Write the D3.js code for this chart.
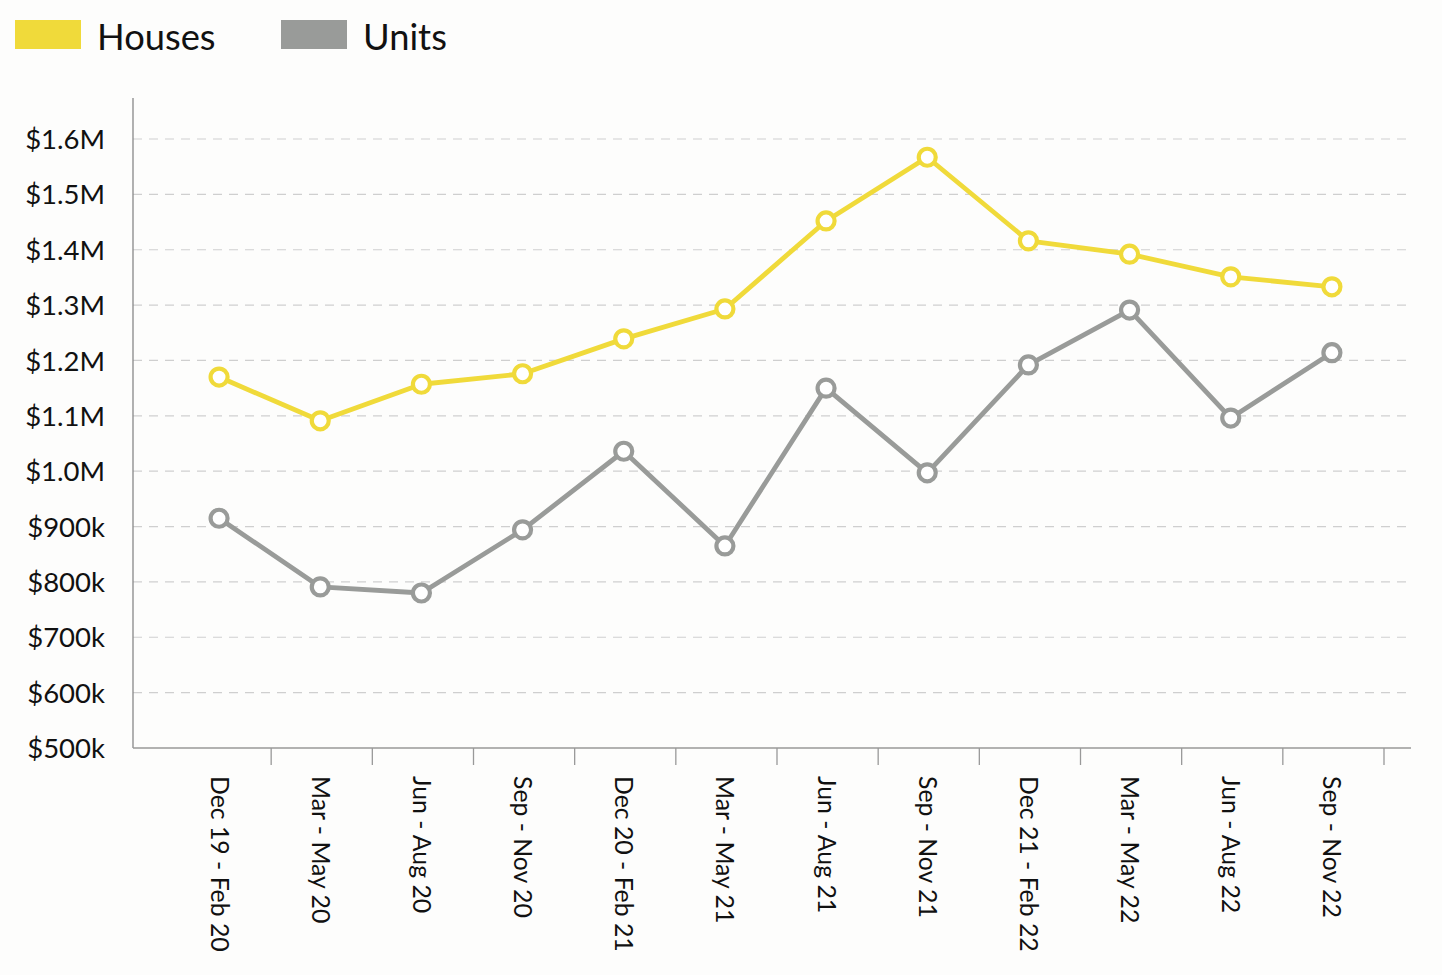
<!DOCTYPE html>
<html><head><meta charset="utf-8">
<script src="https://cdn.jsdelivr.net/npm/d3@7"></script>
<style>body{margin:0;background:#fdfdfc;}svg{display:block;}text{font-family:Lato,"Open Sans",sans-serif;fill:#111;}</style>
</head><body><svg id="c" width="1442" height="975"></svg>
<script>
const categories = ["Dec 19 - Feb 20","Mar - May 20","Jun - Aug 20","Sep - Nov 20","Dec 20 - Feb 21","Mar - May 21","Jun - Aug 21","Sep - Nov 21","Dec 21 - Feb 22","Mar - May 22","Jun - Aug 22","Sep - Nov 22"];
const houses = [1170000,1091000,1157000,1176000,1239000,1293000,1452000,1567000,1416000,1392000,1351000,1333000];
const units = [915000,791000,780000,894000,1036000,865000,1150000,997000,1192000,1291000,1096000,1214000];
const yTicks = [500000,600000,700000,800000,900000,1000000,1100000,1200000,1300000,1400000,1500000,1600000];
const seriesNames = ["Houses","Units"];
const colors = ["#f0da3a","#999b99"];

const svg = d3.select("#c");
const pLeft = 133, pRight = 1411, pTop = 98, pBottom = 748;
const x = d3.scaleBand().domain(categories).range([170, 1384]);
const y = d3.scaleLinear().domain([500000,1600000]).range([pBottom, 139]);
const fmt = v => v >= 1000000 ? "$" + (v/1000000).toFixed(1) + "M" : "$" + (v/1000) + "k";

// grid
svg.append("g").selectAll("line").data(yTicks.slice(1)).join("line")
  .attr("x1", pLeft).attr("x2", pRight).attr("y1", d=>y(d)).attr("y2", d=>y(d))
  .attr("stroke", "#cfcfcf").attr("stroke-width", 1.2).attr("stroke-dasharray", "9,7");

// y axis
const ya = svg.append("g").attr("transform", `translate(${pLeft},0)`)
  .call(d3.axisLeft(y).tickValues(yTicks).tickFormat(fmt).tickSize(0).tickPadding(28));
ya.select(".domain").remove();
ya.selectAll("text").style("font-size","27.5px").attr("fill","#111").attr("dy","0.35em").style("font-family","Lato");
svg.append("line").attr("x1",pLeft).attr("x2",pLeft).attr("y1",pTop).attr("y2",pBottom).attr("stroke","#888").attr("stroke-width",1.3);

// x axis
svg.append("line").attr("x1",pLeft).attr("x2",pRight).attr("y1",pBottom).attr("y2",pBottom).attr("stroke","#999").attr("stroke-width",1.3);
svg.append("g").selectAll("line").data(categories).join("line")
  .attr("x1", d=>x(d)+x.bandwidth()).attr("x2", d=>x(d)+x.bandwidth())
  .attr("y1", pBottom).attr("y2", pBottom+17).attr("stroke","#999").attr("stroke-width",1.3);
svg.append("g").selectAll("text").data(categories).join("text")
  .attr("transform", d=>`translate(${x(d)+x.bandwidth()/2 - 1},776) rotate(90)`)
  .attr("dy","0.36em").style("font-size","24.8px").text(d=>d);

// lines
const cx = d => x(d) + x.bandwidth()/2 - 1.5;
[houses, units].forEach((vals, i) => {
  const pts = vals.map((v,j)=>[cx(categories[j]), y(v)]);
  svg.append("path").datum(pts).attr("d", d3.line()).attr("fill","none")
    .attr("stroke", colors[i]).attr("stroke-width", 4.8).attr("stroke-linejoin","round");
  svg.append("g").selectAll("circle").data(pts).join("circle")
    .attr("cx", d=>d[0]).attr("cy", d=>d[1]).attr("r", 8.5)
    .attr("fill","#fff").attr("stroke", colors[i]).attr("stroke-width", 4.2);
});

// legend
const legX = [15, 281];
seriesNames.forEach((n,i)=>{
  svg.append("rect").attr("x", legX[i]).attr("y", 20).attr("width", 66).attr("height", 29).attr("fill", colors[i]);
  svg.append("text").attr("x", legX[i]+82).attr("y", 37).attr("dy","0.36em").style("font-size","36.3px").text(n);
});
</script></body></html>
